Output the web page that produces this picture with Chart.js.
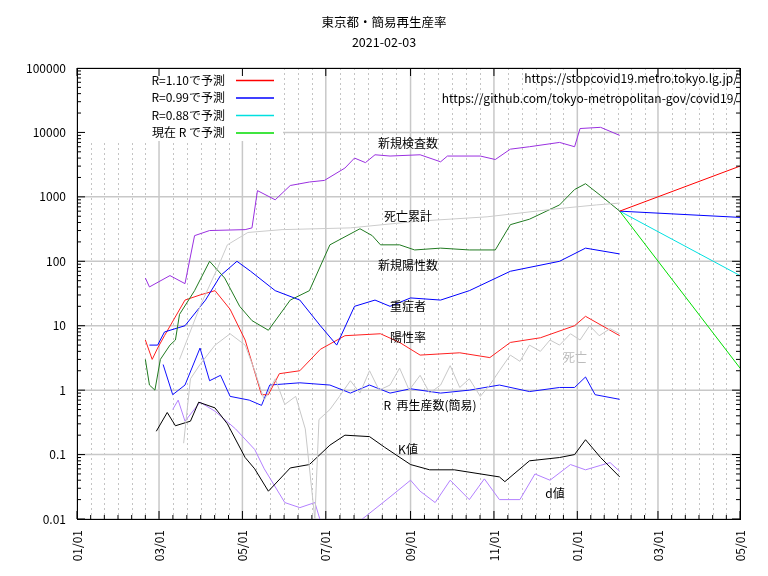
<!DOCTYPE html>
<html><head><meta charset="utf-8">
<script src="https://cdn.jsdelivr.net/npm/chart.js@4"></script>
<style>html,body{margin:0;background:#fff}#w{width:768px;height:576px}</style>
</head><body><div id="w"><canvas id="c" width="768" height="576"></canvas></div>
<script>
const tickDays=[0,60,121,182,244,305,366,425,485];
const tickLabels=["01/01","03/01","05/01","07/01","09/01","11/01","01/01","03/01","05/01"];
const yTicks=[0.01,0.1,1,10,100,1000,10000,100000];

const testDays=[50,53,68,79,86,97,123,128,132,145,156,170,181,196,203,211,218,229,251,266,271,295,306,317,331,353,364,368,383,397];
const testVals=[55,40,60,45,250,300,310,330,1250,900,1500,1700,1800,2800,4000,3400,4500,4300,4500,3500,4300,4300,3800,5500,6000,7000,6000,11500,12000,9000];
const cumDeathDays=[75,90,103,110,125,150,200,250,300,350,380,397];
const cumDeathVals=[3,20,80,180,280,310,330,420,490,650,750,800];
const posDays=[50,53,57,61,68,72,75,86,97,108,119,128,140,156,170,185,207,216,222,236,247,266,287,306,317,331,353,364,372,383,397];
const posVals=[3,1.2,1,3,5,6,15,35,100,55,20,12,8.5,25,35,180,320,250,180,180,150,160,150,150,370,450,750,1300,1600,1050,600];
const severeDays=[53,59,64,79,94,105,117,127,145,163,178,190,203,218,229,244,266,287,317,353,372,397];
const severeVals=[5,5,8,10,25,60,100,70,35,25,10,5,20,25,20,27,25,35,70,100,160,130];
const rateDays=[50,55,59,64,79,90,101,112,123,135,140,148,163,178,196,222,236,251,280,302,317,339,364,372,397];
const rateVals=[6,3,4.5,7,25,30,35,18,6,0.85,0.85,1.8,2,4.3,7,7.5,5.5,3.5,3.8,3.2,5.5,6.5,10,14,7];
const deathDays=[78,83,90,101,112,123,130,137,145,152,160,167,174,177,185,192,200,207,214,221,229,236,243,251,258,266,273,280,287,295,302,309,317,324,331,339,346,353,361,368,375,382,390,397];
const deathVals=[0.15,1.5,2.5,5,7.5,5,2,0.7,1.5,0.6,0.8,0.25,0.01,0.35,0.5,0.8,1.4,0.9,2,1,1.2,2.2,1,1.7,0.9,1.2,2.4,1.1,1.5,0.8,1.2,2,3.5,2.8,5,4,6,5,7.5,6,10,7,9,7.5];
const rDays=[63,70,79,90,97,105,112,126,135,141,163,185,200,214,229,244,266,287,309,331,353,364,372,379,397];
const rVals=[2.5,0.85,1.2,4.5,1.4,1.7,0.8,0.7,0.58,1.2,1.3,1.2,0.9,1.2,0.9,1.05,0.9,1.0,1.2,0.95,1.1,1.1,1.6,0.85,0.72];
const kDays=[58,66,72,83,89,101,110,123,130,140,156,170,185,196,214,225,244,258,276,309,313,331,353,364,372,383,397];
const kVals=[0.23,0.45,0.28,0.33,0.65,0.53,0.3,0.09,0.06,0.027,0.062,0.07,0.14,0.2,0.19,0.13,0.07,0.058,0.058,0.045,0.038,0.08,0.09,0.1,0.17,0.09,0.045];
const dDays=[70,74,79,90,101,116,130,137,152,163,174,179,203,229,244,251,262,273,287,298,309,324,335,346,361,372,383,390,397];
const dVals=[0.5,0.7,0.33,0.65,0.47,0.25,0.12,0.06,0.018,0.015,0.018,0.008,0.008,0.022,0.04,0.027,0.018,0.04,0.02,0.042,0.02,0.02,0.05,0.04,0.07,0.058,0.068,0.075,0.055];
const fcDays=[397,485];
const fcRed=[600,3000], fcBlue=[600,480], fcCyan=[600,60], fcGreen=[600,2.2];

const pts=(d,v)=>d.map((x,i)=>({x,y:v[i]}));
const ds=(d,v,c,w=1)=>({data:pts(d,v),borderColor:c,borderWidth:w,pointRadius:0,fill:false,tension:0});

const texts=[
 ["新規検査数",408,143,"#000","center"],["死亡累計",408,216,"#000","center"],["新規陽性数",408,265,"#000","center"],
 ["重症者",408,306,"#000","center"],["陽性率",408,337,"#000","center"],["死亡",575,357,"#bbb","center"],
 ["R  再生産数(簡易)",430,405,"#000","center"],["K値",408,449,"#000","center"],["d値",555,493,"#000","center"],
 ["https://stopcovid19.metro.tokyo.lg.jp/",738,78,"#000","right"],["https://github.com/tokyo-metropolitan-gov/covid19/",738,98,"#000","right"]];
const legendItems=[["R=1.10で予測","rgb(255,0,0)"],["R=0.99で予測","rgb(0,0,255)"],["R=0.88で予測","rgb(0,224,224)"],["現在 R で予測","rgb(0,221,0)"]];
const F="'Noto Sans CJK JP','Noto Sans',sans-serif";

const deco={id:'deco',
 beforeDatasetsDraw(ch){const c=ch.ctx,a=ch.chartArea,xs=ch.scales.x,ys=ch.scales.y;c.save();
  c.strokeStyle="#c4c4c4";c.lineWidth=1;c.setLineDash([2,3]);
  for(let i=0;i<tickDays.length-1;i++){for(let k=1;k<6;k++){const d=tickDays[i]+(tickDays[i+1]-tickDays[i])*k/6;
   const x=Math.round(xs.getPixelForValue(d))+0.5;c.beginPath();c.moveTo(x,a.top);c.lineTo(x,a.bottom);c.stroke();}}
  c.setLineDash([]);c.strokeStyle="#c8c8c8";c.lineWidth=1.5;
  tickDays.forEach(d=>{const x=xs.getPixelForValue(d);c.beginPath();c.moveTo(x,a.top);c.lineTo(x,a.bottom);c.stroke();});
  yTicks.forEach(v=>{const y=ys.getPixelForValue(v);c.beginPath();c.moveTo(a.left,y);c.lineTo(a.right,y);c.stroke();});
  c.fillStyle="#fff";c.fillRect(a.left+1,a.top+1,205,72);
  c.restore();},
 afterDatasetsDraw(ch){const c=ch.ctx,a=ch.chartArea,xs=ch.scales.x,ys=ch.scales.y;c.save();
  c.strokeStyle="#000";c.lineWidth=1;c.strokeRect(a.left+0.5,a.top+0.5,a.right-a.left,a.bottom-a.top);
  for(let e=-2;e<5;e++)for(let k=1;k<10;k++){const y=ys.getPixelForValue(k*Math.pow(10,e));const L=k==1?8:4;
   c.beginPath();c.moveTo(a.left,y);c.lineTo(a.left+L,y);c.moveTo(a.right,y);c.lineTo(a.right-L,y);c.stroke();}
  for(let i=0;i<tickDays.length-1;i++)for(let k=1;k<6;k++){const x=xs.getPixelForValue(tickDays[i]+(tickDays[i+1]-tickDays[i])*k/6);
   c.beginPath();c.moveTo(x,a.bottom);c.lineTo(x,a.bottom-4);c.stroke();}
  tickDays.forEach(d=>{const x=xs.getPixelForValue(d);c.beginPath();c.moveTo(x,a.bottom);c.lineTo(x,a.bottom-8);c.moveTo(x,a.top);c.lineTo(x,a.top+8);c.stroke();});
  c.font="12px "+F;c.textBaseline="middle";
  texts.forEach(t=>{c.fillStyle=t[3];c.textAlign=t[4];c.fillText(t[0],t[1],t[2]);});
  c.lineWidth=1.3;
  legendItems.forEach((l,i)=>{const y=80+i*17.5;c.fillStyle="#000";c.textAlign="right";c.fillText(l[0],225,y);
   c.strokeStyle=l[1];c.beginPath();c.moveTo(236,y+0.5);c.lineTo(274,y+0.5);c.stroke();});
  c.textAlign="center";c.font="12.5px "+F;c.fillStyle="#000";c.fillText("東京都・簡易再生産率",384,22);c.fillText("2021-02-03",384,42);
  c.restore();}};

new Chart(document.getElementById('c'),{type:'line',
 data:{datasets:[
  ds(cumDeathDays,cumDeathVals,"#cccccc"),ds(deathDays,deathVals,"#c8c8c8"),
  ds(testDays,testVals,"#9a30e0"),ds(posDays,posVals,"#207a20"),ds(severeDays,severeVals,"#0000ff"),
  ds(rateDays,rateVals,"#ff2020"),ds(rDays,rVals,"#1010ff"),ds(kDays,kVals,"#000000"),ds(dDays,dVals,"#b380ff"),
  ds(fcDays,fcRed,"#ff0000"),ds(fcDays,fcBlue,"#0000ff"),ds(fcDays,fcCyan,"#00e0e0"),ds(fcDays,fcGreen,"#00dd00")]},
 options:{responsive:false,animation:false,events:[],
  layout:{padding:{top:68,right:28,left:0,bottom:0}},
  plugins:{legend:{display:false},tooltip:{enabled:false}},
  scales:{
   x:{type:'linear',min:0,max:485,grid:{display:false},border:{display:false},
    afterBuildTicks:s=>{s.ticks=tickDays.map(v=>({value:v}));},
    afterFit:s=>{s.height=57;},
    ticks:{autoSkip:false,maxRotation:90,minRotation:90,color:"#000",font:{size:12,family:F},callback:(v,i)=>tickLabels[i]}},
   y:{type:'logarithmic',min:0.01,max:100000,grid:{display:false},border:{display:false},
    afterBuildTicks:s=>{s.ticks=yTicks.map(v=>({value:v}));},
    afterFit:s=>{s.width=77;},
    ticks:{autoSkip:false,color:"#000",font:{size:12,family:F},callback:v=>String(v)}}}},
 plugins:[deco]});
</script></body></html>
